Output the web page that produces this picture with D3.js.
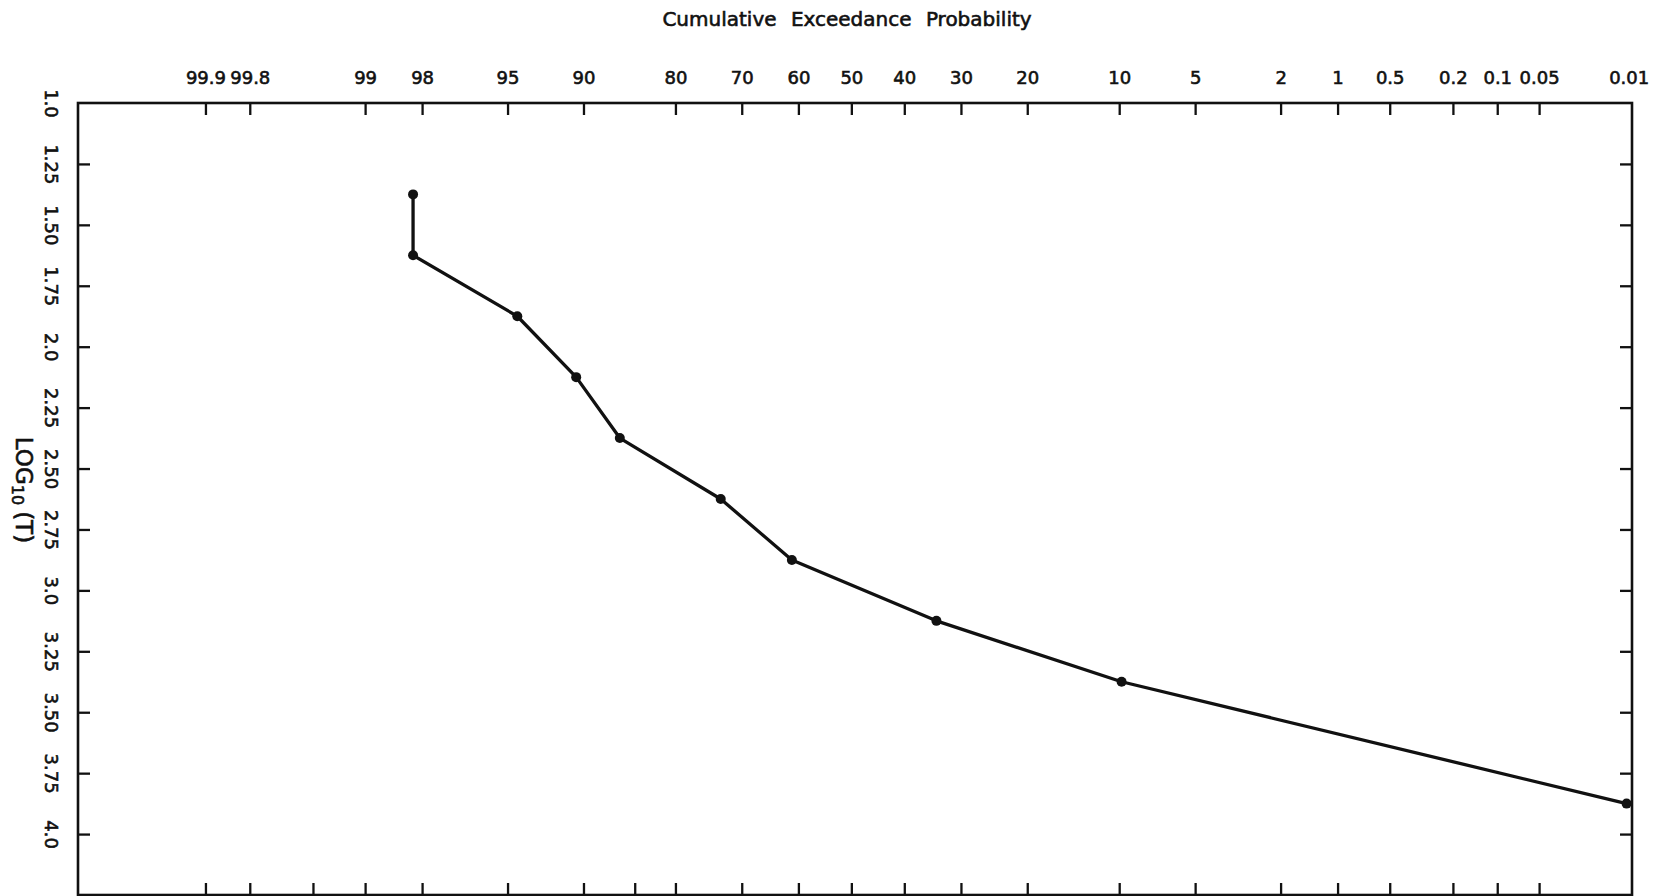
<!DOCTYPE html>
<html>
<head>
<meta charset="utf-8">
<script src="https://cdn.jsdelivr.net/npm/d3@7"></script>
<style>
  body { margin: 0; background: #fff; }
  svg { display: block; }
  text { font-family: "DejaVu Sans", "Liberation Sans", sans-serif; fill: #111; }
</style>
</head>
<body>
<svg id="chart" width="1659" height="896"></svg>
<script>
// Cumulative exceedance probability (%) for each log10(T) class midpoint
const exceedancePct = [98.2, 98.2, 94.5, 90.6, 86.6, 73.4, 61.2, 34.2, 9.8, 0.0104];
const log10T        = [1.375, 1.625, 1.875, 2.125, 2.375, 2.625, 2.875, 3.125, 3.375, 3.875];

// Probability-paper tick marks
const topTicks      = [99.9, 99.8, 99, 98, 95, 90, 80, 70, 60, 50, 40, 30, 20, 10, 5, 2, 1, 0.5, 0.2, 0.1, 0.05, 0.01];
const topTickLabels = ["99.9", "99.8", "99", "98", "95", "90", "80", "70", "60", "50", "40", "30", "20", "10", "5", "2", "1", "0.5", "0.2", "0.1", "0.05", "0.01"];
const bottomTicks   = [99.9, 99.8, 99.5, 99, 98, 95, 90, 85, 80, 70, 60, 50, 40, 30, 20, 10, 5, 2, 1, 0.5, 0.2, 0.1, 0.05];
const yTicks        = [1.0, 1.25, 1.5, 1.75, 2.0, 2.25, 2.5, 2.75, 3.0, 3.25, 3.5, 3.75, 4.0];
const yTickLabels   = ["1.0", "1.25", "1.50", "1.75", "2.0", "2.25", "2.50", "2.75", "3.0", "3.25", "3.50", "3.75", "4.0"];

// Inverse standard normal CDF (Acklam's rational approximation)
function normInv(p) {
  const a = [-3.969683028665376e+01, 2.209460984245205e+02, -2.759285104469687e+02, 1.383577518672690e+02, -3.066479806614716e+01, 2.506628277459239e+00];
  const b = [-5.447609879822406e+01, 1.615858368580409e+02, -1.556989798598866e+02, 6.680131188771972e+01, -1.328068155288572e+01];
  const c = [-7.784894002430293e-03, -3.223964580411365e-01, -2.400758277161838e+00, -2.549732539343734e+00, 4.374664141464968e+00, 2.938163982698783e+00];
  const d = [7.784695709041462e-03, 3.224671290700398e-01, 2.445134137142996e+00, 3.754408661907416e+00];
  const pl = 0.02425;
  let q, r;
  if (p < pl) {
    q = Math.sqrt(-2 * Math.log(p));
    return (((((c[0]*q+c[1])*q+c[2])*q+c[3])*q+c[4])*q+c[5]) / ((((d[0]*q+d[1])*q+d[2])*q+d[3])*q+1);
  } else if (p <= 1 - pl) {
    q = p - 0.5; r = q * q;
    return (((((a[0]*r+a[1])*r+a[2])*r+a[3])*r+a[4])*r+a[5])*q / (((((b[0]*r+b[1])*r+b[2])*r+b[3])*r+b[4])*r+1);
  } else {
    q = Math.sqrt(-2 * Math.log(1 - p));
    return -(((((c[0]*q+c[1])*q+c[2])*q+c[3])*q+c[4])*q+c[5]) / ((((d[0]*q+d[1])*q+d[2])*q+d[3])*q+1);
  }
}
// exceedance percentage -> standard normal deviate
const probit = pct => normInv(1 - pct / 100);

const svg = d3.select("#chart");

const x = d3.scaleLinear().domain([-3.70, 3.735]).range([78, 1632]);
const y = d3.scaleLinear().domain([1.0, 4.25]).range([103, 895]);
const px = pct => x(probit(pct));

const INK = "#111";
const labelStyle = sel => sel
  .attr("font-size", 18).attr("fill", INK)
  .attr("font-family", "DejaVu Sans, sans-serif")
  .attr("stroke", INK).attr("stroke-width", 0.6);

// frame
svg.append("rect")
  .attr("x", x.range()[0]).attr("y", y.range()[0])
  .attr("width", x.range()[1] - x.range()[0])
  .attr("height", y.range()[1] - y.range()[0])
  .attr("fill", "none").attr("stroke", INK).attr("stroke-width", 2.6);

function styleAxis(g) {
  g.select(".domain").remove();
  g.selectAll(".tick line").attr("stroke", INK).attr("stroke-width", 2.3);
}

// top probability axis
const topAxis = svg.append("g")
  .attr("transform", `translate(0,${y.range()[0]})`)
  .call(d3.axisTop(x)
    .tickValues(topTicks.map(probit))
    .tickFormat((d, i) => topTickLabels[i])
    .tickSizeInner(-12).tickSizeOuter(0).tickPadding(19))
  .call(styleAxis);
topAxis.selectAll(".tick text").call(labelStyle);
// the 0.01 mark coincides with the right edge of the frame
topAxis.selectAll(".tick").filter((d, i) => topTicks[i] === 0.01).select("line").remove();

// bottom ticks
svg.append("g")
  .attr("transform", `translate(0,${y.range()[1]})`)
  .call(d3.axisBottom(x)
    .tickValues(bottomTicks.map(probit))
    .tickFormat("")
    .tickSizeInner(-12).tickSizeOuter(0))
  .call(styleAxis);

// left axis with rotated labels
const leftAxis = svg.append("g")
  .attr("transform", `translate(${x.range()[0]},0)`)
  .call(d3.axisLeft(y)
    .tickValues(yTicks)
    .tickFormat((d, i) => yTickLabels[i])
    .tickSizeInner(-12).tickSizeOuter(0))
  .call(styleAxis);
leftAxis.selectAll(".tick").filter(d => d === 1.0).select("line").remove();
leftAxis.selectAll(".tick text")
  .attr("x", null).attr("dy", null)
  .attr("text-anchor", "middle")
  .attr("dominant-baseline", "central")
  .attr("transform", "translate(-27,0) rotate(90)")
  .call(labelStyle);

// right ticks
svg.append("g")
  .attr("transform", `translate(${x.range()[1]},0)`)
  .call(d3.axisRight(y)
    .tickValues(yTicks.slice(1))
    .tickFormat("")
    .tickSizeInner(-12).tickSizeOuter(0))
  .call(styleAxis);

// axis titles
svg.append("text")
  .attr("x", 847).attr("y", 26)
  .attr("text-anchor", "middle")
  .attr("font-size", 20)
  .attr("word-spacing", 8)
  .attr("stroke", INK).attr("stroke-width", 0.6)
  .text("Cumulative Exceedance Probability");

const yTitle = svg.append("text")
  .attr("transform", "translate(24,490) rotate(90)")
  .attr("text-anchor", "middle")
  .attr("dominant-baseline", "central")
  .attr("font-size", 23)
  .attr("stroke", INK).attr("stroke-width", 0.6);
yTitle.append("tspan").text("LOG");
yTitle.append("tspan").attr("font-size", 16).attr("dy", 6).text("10");
yTitle.append("tspan").attr("dy", -6).attr("dx", 6).text("(T)");

// exceedance curve
const pts = exceedancePct.map((p, i) => ({ p, v: log10T[i] }));
svg.append("path")
  .datum(pts)
  .attr("fill", "none")
  .attr("stroke", INK)
  .attr("stroke-width", 3.3)
  .attr("stroke-linejoin", "round")
  .attr("d", d3.line().x(d => px(d.p)).y(d => y(d.v)));

svg.append("g")
  .selectAll("circle")
  .data(pts)
  .join("circle")
  .attr("cx", d => px(d.p))
  .attr("cy", d => y(d.v))
  .attr("r", 5)
  .attr("fill", INK);
</script>
</body>
</html>
